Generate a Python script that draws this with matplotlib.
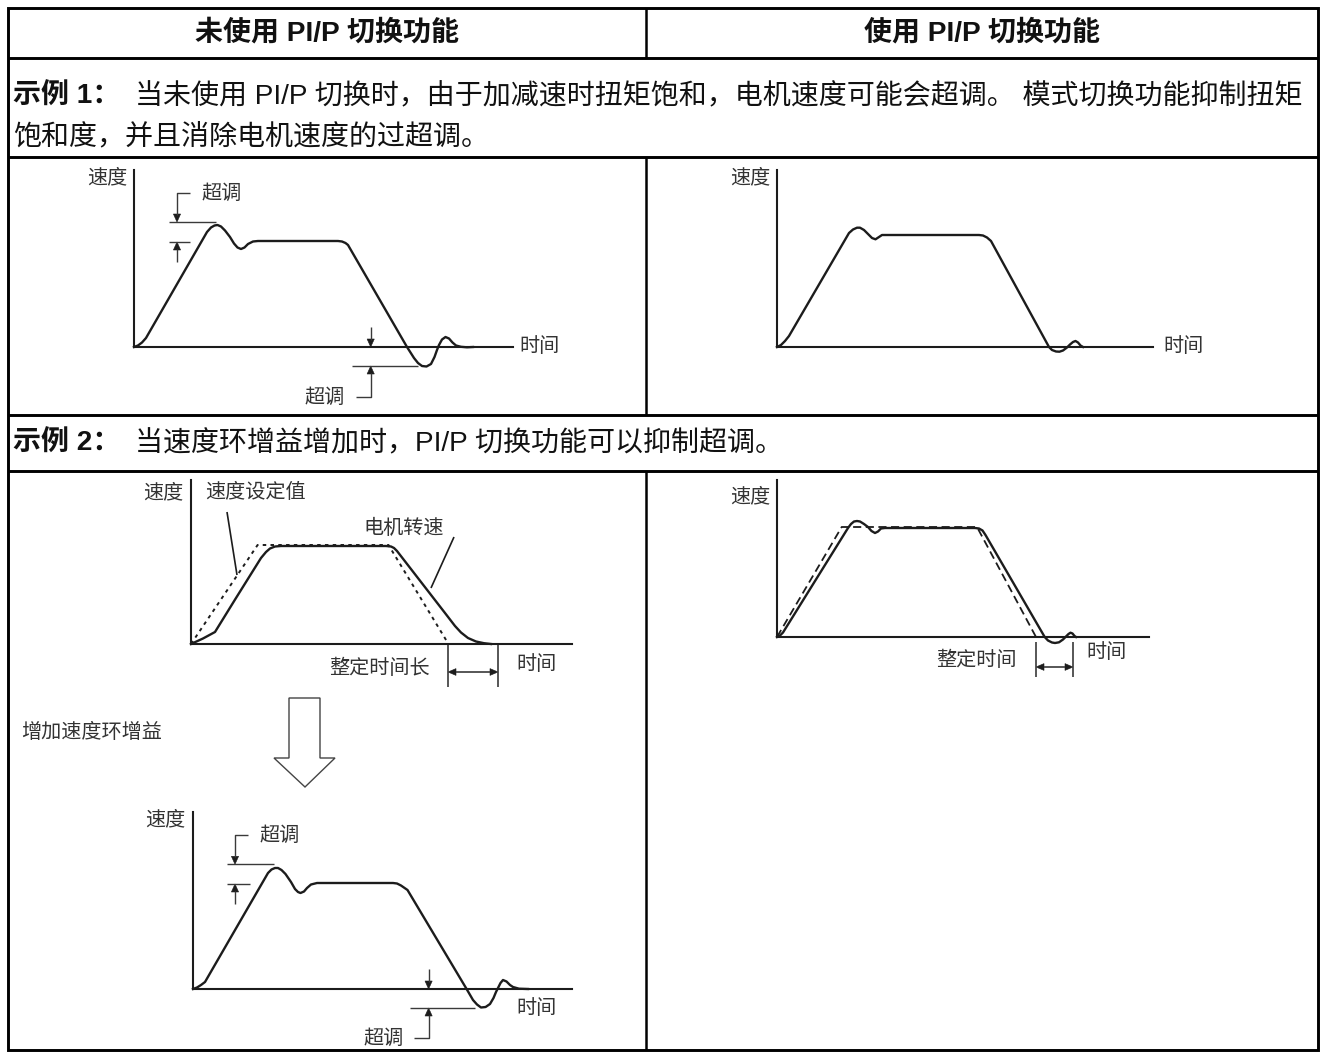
import matplotlib
matplotlib.use('Agg')
import matplotlib.pyplot as plt
from matplotlib.patches import Polygon, Rectangle

# ---------------- text content ----------------
header_left = "未使用 PI/P 切换功能"
header_right = "使用 PI/P 切换功能"
ex1_tag = "示例 1："
ex1_line1 = "当未使用 PI/P 切换时，由于加减速时扭矩饱和，电机速度可能会超调。 模式切换功能抑制扭矩"
ex1_line2 = "饱和度，并且消除电机速度的过超调。"
ex2_tag = "示例 2："
ex2_line = "当速度环增益增加时，PI/P 切换功能可以抑制超调。"
lbl_speed = "速度"
lbl_time = "时间"
lbl_over = "超调"
lbl_setpoint = "速度设定值"
lbl_motor = "电机转速"
lbl_settle_long = "整定时间长"
lbl_settle = "整定时间"
lbl_gain = "增加速度环增益"

# ---------------- curve data (time, speed) ----------------
# Example 1, without PI/P switching
p1_t = [0, 4, 8, 12, 73, 77, 80.5, 83.5, 87, 91, 96, 100, 103.5, 107, 110.5, 114, 119, 124,
        204, 208, 211.5, 214, 273, 280, 284, 288, 292.5, 297, 300.5, 303, 305, 308, 311.5,
        315, 318.5, 322, 327, 333, 339]
p1_v = [0, 1.5, 4.5, 9, 115, 119.5, 121.5, 122, 120.5, 116.5, 110, 103.5, 99.5, 98, 99.5, 103,
        105.5, 106, 106, 105.5, 104, 102, 0, -11, -16, -19, -19.5, -17, -10, -3, 2, 7.5, 10,
        8.5, 4.5, 1.5, 0.2, -0.3, 0]
# Example 1, with PI/P switching
p2_t = [0, 4, 8, 12, 72, 76, 80, 83, 87, 91, 95, 98.5, 102, 105, 202, 206, 210, 214,
        272, 275, 279, 282.5, 286, 290, 293, 296, 298.5, 301, 303.5, 306]
p2_v = [0, 2, 6, 11, 114, 117.5, 119.3, 119.3, 117, 113, 109, 107.7, 110, 112, 112, 111.5,
        109.5, 106, 0, -3, -4.5, -4.7, -3.5, -0.5, 2.5, 5, 6, 4.5, 1.5, 0]
# Example 2, low gain: motor speed and speed set value
p3_motor_t = [0, 12, 24, 45, 70, 75, 79, 84, 90, 195, 200, 203, 206, 254, 259, 264, 270,
              277, 285, 293, 300]
p3_motor_v = [0, 5.5, 12, 46, 86, 92, 95.5, 97.5, 98, 98, 97.5, 96, 93, 31, 24.5, 18, 11.5,
              6, 2.5, 0.8, 0]
p3_set_t = [0, 66.6, 197.5, 257.5]
p3_set_v = [0, 99, 99, 0]
# Example 2, with PI/P switching: motor speed and speed set value
p4_t = [0, 3, 6, 71, 74, 77, 80, 83, 87, 91, 94.5, 98, 101, 104, 108, 198, 202, 205.5, 208.5,
        267.7, 271, 275, 278, 282, 286, 289, 291.5, 293.5, 295.5, 297.5, 299]
p4_v = [0, 1.5, 4.5, 109, 113, 115.5, 116, 115.5, 113, 110, 106, 104, 105.5, 108.5, 109, 109,
        108.5, 106.5, 102, 0, -3.5, -5.5, -6, -5.3, -2.5, 0.5, 3, 4.3, 3.5, 1, 0]
p4_set_t = [0, 64.7, 200, 259]
p4_set_v = [0, 110, 110, 0]
# Example 2, high gain
p5_t = [0, 4, 8, 12, 75, 78.5, 82, 85, 88.5, 92.5, 98, 102, 105, 107.5, 111, 114, 118, 124,
        200, 204, 208, 214.5, 273.6, 280, 284, 288, 292.6, 297, 300.5, 303, 305, 307.5, 310,
        313.5, 317, 320, 326, 335]
p5_v = [0, 1.5, 4, 7, 116, 119.5, 121, 121, 119, 115, 107, 100, 97, 96, 97.5, 101, 104.5, 106,
        106, 105.5, 103.5, 99, 0, -11, -15.5, -18.5, -18, -15, -9, -3, 1, 6, 9, 7.5, 4, 2, 0.3, 0]

# ---------------- figure ----------------
FW, FH = 1325, 1054
fig = plt.figure(figsize=(FW / 100, FH / 100), dpi=100)
fig.patch.set_facecolor('white')
ax0 = fig.add_axes([0, 0, 1, 1])
ax0.set_xlim(0, FW)
ax0.set_ylim(FH, 0)
ax0.axis('off')

FAM = ['Liberation Sans', 'Noto Sans CJK SC']
CJK = ['Noto Sans CJK SC', 'DejaVu Sans']
BODY = 20.2
LAB = 14.5
INK = '#111111'
LINE = '#1c1c1c'
THIN = '#3a3a3a'

# table frame
L, R, T, B = 8, 1318, 8, 1050
TLW = 2.1
ax0.add_patch(Rectangle((L, T), R - L, B - T, fill=False, ec='black', lw=TLW))
for yy in (58, 157, 415, 471):
    ax0.plot([L, R], [yy, yy], color='black', lw=TLW, solid_capstyle='butt')
for (y0, y1) in ((T, 58), (157, 415), (471, B)):
    ax0.plot([646, 646], [y0, y1], color='black', lw=1.8, solid_capstyle='butt')

# header and example texts
ax0.text((L + 646) / 2, 33, header_left, ha='center', va='center', fontsize=BODY,
         family=FAM, weight='bold', color=INK)
ax0.text((646 + R) / 2, 33, header_right, ha='center', va='center', fontsize=BODY,
         family=FAM, weight='bold', color=INK)
ax0.text(13, 97, ex1_tag, ha='left', va='center', fontsize=BODY, family=FAM,
         weight='bold', color=INK)
ax0.text(135, 97, ex1_line1, ha='left', va='center', fontsize=BODY, family=FAM, color=INK)
ax0.text(13, 137, ex1_line2, ha='left', va='center', fontsize=BODY, family=FAM, color=INK)
ax0.text(13, 444, ex2_tag, ha='left', va='center', fontsize=BODY, family=FAM,
         weight='bold', color=INK)
ax0.text(135, 444, ex2_line, ha='left', va='center', fontsize=BODY, family=FAM, color=INK)

# "increase gain" label and hollow arrow
ax0.text(21, 733, lbl_gain, ha='left', va='center', fontsize=LAB, family=CJK, color='#333333')
ax0.add_patch(Polygon([(289, 698), (320, 698), (320, 758), (335, 758), (305, 787),
                       (274, 758), (289, 758)], closed=True, fc='white', ec='#444444', lw=1.0))


def panel(ox, oy, W, H):
    ax = fig.add_axes([ox / FW, 1 - oy / FH, W / FW, H / FH])
    ax.set_xlim(0, W)
    ax.set_ylim(0, H)
    ax.patch.set_visible(False)
    for s in ('top', 'right'):
        ax.spines[s].set_visible(False)
    for s in ('left', 'bottom'):
        ax.spines[s].set_linewidth(1.5)
        ax.spines[s].set_color(LINE)
    ax.set_xticks([])
    ax.set_yticks([])
    return ax


def vhead(ax, x, y, d, L=8, w=3.6):
    # tip at (x, y); d=+1 points up, d=-1 points down
    ax.add_patch(Polygon([(x, y), (x - w, y - d * L), (x + w, y - d * L)], closed=True,
                         fc=LINE, ec=LINE, lw=0.4, clip_on=False))


def hhead(ax, x, y, d, L=8, w=3.4):
    # tip at (x, y); d=+1 points right, d=-1 points left
    ax.add_patch(Polygon([(x, y), (x - d * L, y - w), (x - d * L, y + w)], closed=True,
                         fc=LINE, ec=LINE, lw=0.4, clip_on=False))


def seg(ax, xs, ys, lw=1.0, color=THIN):
    ax.plot(xs, ys, color=color, lw=lw, clip_on=False, solid_capstyle='butt')


def label(ax, x, y, s, ha='center'):
    ax.text(x, y, s, ha=ha, va='center', fontsize=LAB, family=CJK, color='#333333')


def overshoot(ax, xa, v_peak, v_flat, v_lab, xl, xr_top, xr_bot, lab_x,
              xb, v_min, xbl, xbr, v_lab2, lab2_x):
    # upper overshoot marker
    seg(ax, [xl, xr_top], [v_peak, v_peak])
    seg(ax, [xl, xr_bot], [v_flat, v_flat])
    seg(ax, [xa + 13, xa, xa], [v_lab, v_lab, v_peak + 7])
    vhead(ax, xa, v_peak, -1)
    seg(ax, [xa, xa], [v_flat - 20, v_flat - 7])
    vhead(ax, xa, v_flat, +1)
    label(ax, lab_x, v_lab, lbl_over)
    # lower overshoot marker
    seg(ax, [xb, xb], [20, 7])
    vhead(ax, xb, 0, -1)
    seg(ax, [xbl, xbr], [v_min, v_min])
    seg(ax, [xb, xb, xb - 15], [v_min - 7, v_lab2, v_lab2])
    vhead(ax, xb, v_min, +1)
    label(ax, lab2_x, v_lab2, lbl_over)


CW = 1.7

# ---- panel 1: example 1 without PI/P ----
a1 = panel(134, 347, 379, 177)
a1.plot(p1_t, p1_v, color=LINE, lw=CW, clip_on=False)
label(a1, -7, 169, lbl_speed, ha='right')
label(a1, 385, 0, lbl_time, ha='left')
overshoot(a1, 43, 125, 105, 154, 35, 82, 56, 88, 236.7, -19, 218, 284, -50, 191)

# ---- panel 2: example 1 with PI/P ----
a2 = panel(777, 347, 376, 177)
a2.plot(p2_t, p2_v, color=LINE, lw=CW, clip_on=False)
label(a2, -7, 169, lbl_speed, ha='right')
label(a2, 386, 0, lbl_time, ha='left')

# ---- panel 3: example 2, low gain ----
a3 = panel(191, 644, 381, 164)
a3.plot(p3_set_t, p3_set_v, color=LINE, lw=1.4, ls=(0, (1.8, 2.2)), clip_on=False)
a3.plot(p3_motor_t, p3_motor_v, color=LINE, lw=CW, clip_on=False)
label(a3, -8, 151, lbl_speed, ha='right')
label(a3, 14, 151, lbl_setpoint, ha='left')
seg(a3, [36, 46], [132, 69], lw=1.2, color=LINE)
label(a3, 213, 116, lbl_motor)
seg(a3, [263, 240], [107, 56], lw=1.2, color=LINE)
seg(a3, [257, 257], [0, -43], lw=1.2)
seg(a3, [307, 307], [0, -43], lw=1.2)
seg(a3, [265, 299], [-28, -28], lw=1.2)
hhead(a3, 257, -28, -1)
hhead(a3, 307, -28, +1)
label(a3, 189, -24, lbl_settle_long)
label(a3, 346, -21, lbl_time)

# ---- panel 4: example 2 with PI/P ----
a4 = panel(777, 637, 372, 157)
a4.plot(p4_set_t, p4_set_v, color=LINE, lw=1.3, ls=(0, (4.5, 2.5)), clip_on=False)
a4.plot(p4_t, p4_v, color=LINE, lw=CW, clip_on=False)
label(a4, -7, 140, lbl_speed, ha='right')
seg(a4, [259, 259], [-5, -40], lw=1.2)
seg(a4, [296, 296], [-5, -40], lw=1.2)
seg(a4, [267, 288], [-30, -30], lw=1.2)
hhead(a4, 259, -30, -1)
hhead(a4, 296, -30, +1)
label(a4, 199, -23, lbl_settle)
label(a4, 329, -16, lbl_time)

# ---- panel 5: example 2, high gain ----
a5 = panel(193, 989, 379, 177)
a5.plot(p5_t, p5_v, color=LINE, lw=CW, clip_on=False)
label(a5, -8, 169, lbl_speed, ha='right')
label(a5, 344, -19, lbl_time)
overshoot(a5, 42, 124.7, 105, 154, 34, 81, 57, 87, 235.6, -19, 216.6, 282, -49, 191)

fig.savefig('out.png', dpi=100, facecolor='white')
